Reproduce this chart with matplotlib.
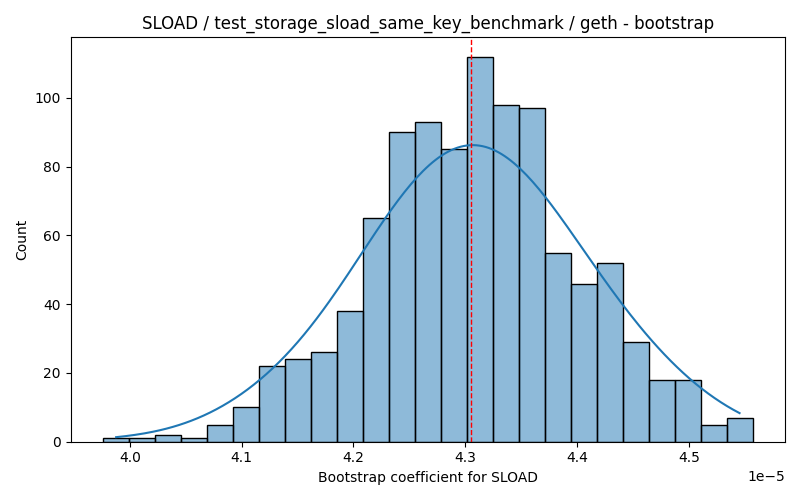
import matplotlib
matplotlib.use("Agg")
import matplotlib.pyplot as plt
import seaborn as sns
import numpy as np

bin_start = 3.976e-5
bin_end = 4.557e-5
counts = [1, 1, 2, 1, 5, 10, 22, 24, 26, 38, 65, 90, 93, 85, 112, 98, 97, 55, 46, 52, 29, 18, 18, 5, 7]
median_value = 4.305e-5

edges = np.linspace(bin_start, bin_end, len(counts) + 1)
centers = (edges[:-1] + edges[1:]) / 2

fig, ax = plt.subplots(figsize=(8, 5), dpi=100)
sns.histplot(x=centers, weights=np.array(counts, dtype=float), bins=len(counts),
             binrange=(bin_start, bin_end), kde=True, ax=ax)
ax.axvline(median_value, color="red", linestyle="--", linewidth=1)
ax.set_title("SLOAD / test_storage_sload_same_key_benchmark / geth - bootstrap")
ax.set_xlabel("Bootstrap coefficient for SLOAD")
ax.set_ylabel("Count")
plt.tight_layout()
plt.savefig("out.png")
